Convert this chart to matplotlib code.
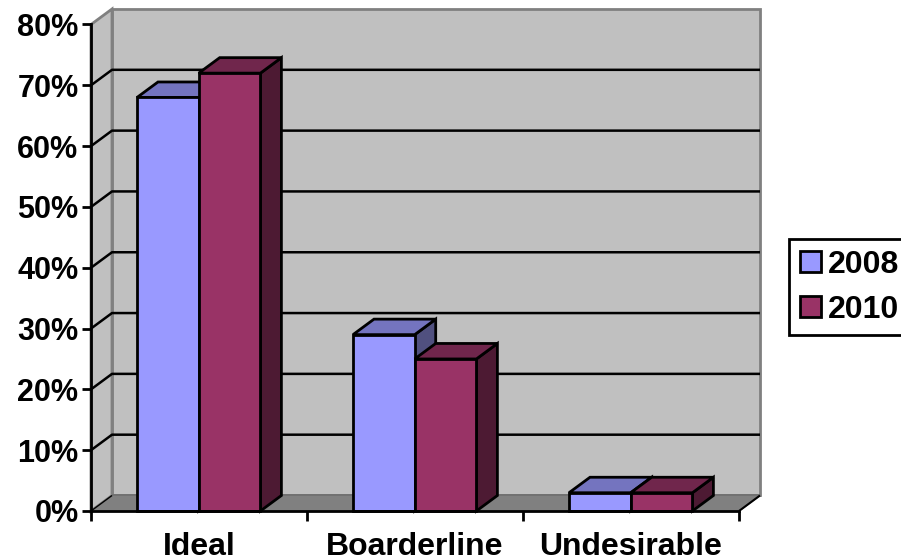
import matplotlib
matplotlib.use("Agg")
import matplotlib.pyplot as plt
from matplotlib.patches import Patch, Polygon

plt.rcParams['font.family'] = ['Liberation Sans', 'DejaVu Sans']
plt.rcParams['font.weight'] = 'bold'

categories = ["Ideal", "Boarderline", "Undesirable"]
series_names = ["2008", "2010"]
values_2008 = [68, 29, 3]
values_2010 = [72, 25, 3]
y_ticks = [0, 10, 20, 30, 40, 50, 60, 70, 80]

WALL = "#C0C0C0"
FLOOR = "#808080"
FRONT = ["#9999FF", "#993366"]
TOP = ["#7474BF", "#70264C"]
SIDE = ["#50507F", "#4D1A33"]

W, H = 901, 558
L, R, B, T = 91, 739, 511, 24.5
DX = 21 / 216      # depth of the 3D box along x, in category units
DY = 15.5 / 6.081  # depth of the 3D box along y, in percent units
BAR_W = 61.7 / 216
BAR_START = 46 / 216
LW = 2.0

fig = plt.figure(figsize=(W / 100, H / 100), dpi=100, facecolor="white")
ax = fig.add_axes([L / W, 1 - B / H, (R - L) / W, (B - T) / H])
ax.set_xlim(0, 3)
ax.set_ylim(0, 80)
ax.patch.set_visible(False)


def poly(points, face, edge="black", lw=LW, z=1):
    ax.add_patch(Polygon(points, closed=True, facecolor=face, edgecolor=edge,
                         linewidth=lw, clip_on=False, zorder=z, joinstyle="miter"))


def seg(xs, ys, color="black", lw=LW, z=2):
    ax.plot(xs, ys, color=color, linewidth=lw, clip_on=False, zorder=z,
            solid_capstyle="butt")


# Walls and floor of the 3D box
poly([(DX, DY), (3 + DX, DY), (3 + DX, 80 + DY), (DX, 80 + DY)], WALL, FLOOR, 2.0)
poly([(0, 0), (DX, DY), (DX, 80 + DY), (0, 80)], WALL, FLOOR, 2.0)
poly([(0, 0), (3, 0), (3 + DX, DY), (DX, DY)], FLOOR, FLOOR, 1.0)
seg([DX, 3 + DX], [DY, DY], color="#6E6E6E", lw=1.2)
seg([0, DX], [0, DY], lw=1.0)
seg([3, 3 + DX], [0, DY], lw=1.5)

# Gridlines run across the side wall and the back wall
for v in y_ticks[1:-1]:
    seg([0, DX, 3 + DX], [v, v + DY, v + DY], lw=1.8)

# Boxes, back to front within each category
for i in range(len(categories)):
    for s, vals in enumerate([values_2008, values_2010]):
        v = vals[i]
        x0 = i + BAR_START + s * BAR_W
        x1 = x0 + BAR_W
        poly([(x1, 0), (x1 + DX, DY), (x1 + DX, v + DY), (x1, v)], SIDE[s], z=3 + s)
        poly([(x0, v), (x1, v), (x1 + DX, v + DY), (x0 + DX, v + DY)], TOP[s], z=3 + s)
        poly([(x0, 0), (x1, 0), (x1, v), (x0, v)], FRONT[s], z=3 + s)

# Axes, ticks and labels
for name in ("top", "right"):
    ax.spines[name].set_visible(False)
for name in ("left", "bottom"):
    ax.spines[name].set_linewidth(LW)
    ax.spines[name].set_zorder(6)

ax.set_yticks(y_ticks)
ax.set_yticklabels([f"{v}%" for v in y_ticks], fontsize=22, fontweight="bold")
ax.tick_params(axis="y", length=6.5, width=LW, pad=2.5)
ax.set_xticks([0, 1, 2, 3])
ax.set_xticklabels([])
ax.tick_params(axis="x", which="major", length=7, width=LW)
ax.set_xticks([0.5, 1.5, 2.5], minor=True)
ax.set_xticklabels(categories, minor=True, fontsize=23, fontweight="bold")
ax.tick_params(axis="x", which="minor", length=0, pad=15)

handles = [Patch(facecolor=FRONT[k], edgecolor="black", linewidth=LW, label=series_names[k])
           for k in range(2)]
leg = fig.legend(handles=handles, loc="upper left",
                 bbox_to_anchor=(789 / W, 1 - 239 / H), borderaxespad=0,
                 fontsize=23, handlelength=0.66, handleheight=0.66, handletextpad=0.22,
                 labelspacing=0.46, borderpad=0.34, fancybox=False, framealpha=1,
                 edgecolor="black")
leg.get_frame().set_linewidth(LW)

fig.savefig("out.png", dpi=100, facecolor="white")
